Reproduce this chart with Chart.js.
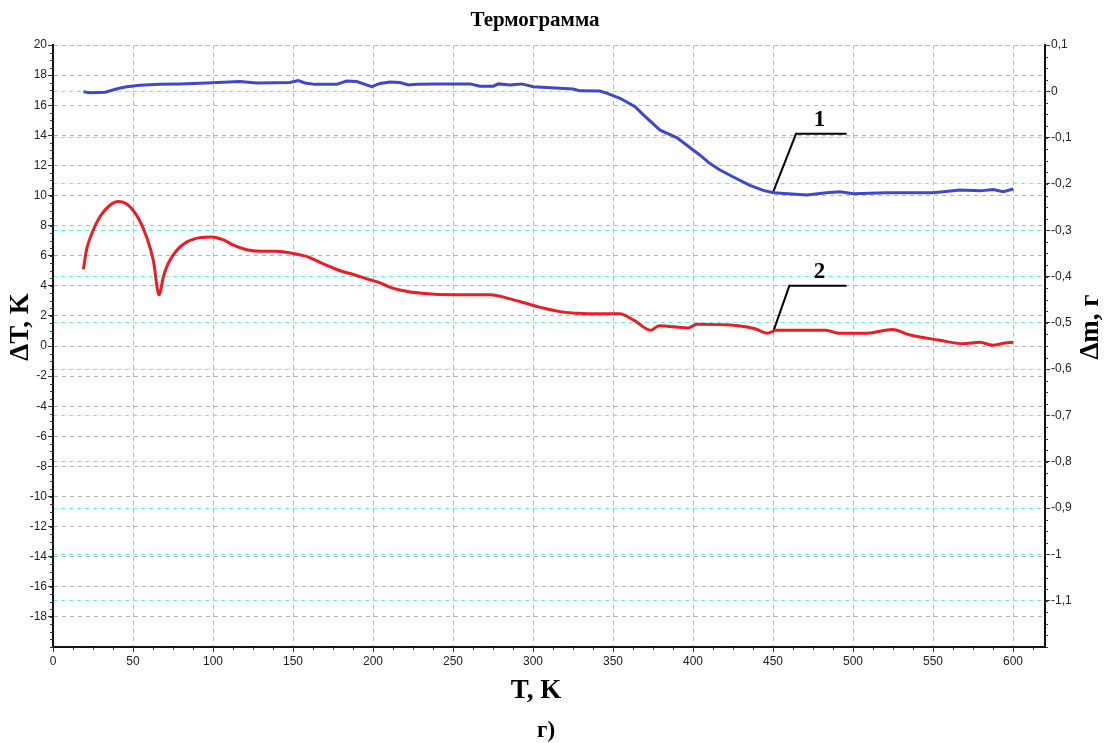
<!DOCTYPE html>
<html>
<head>
<meta charset="utf-8">
<title>Термограмма</title>
<script src="https://cdn.jsdelivr.net/npm/chart.js@4.4.1/dist/chart.umd.min.js"></script>
<style>
    html, body { margin: 0; padding: 0; background: #fff; }
    #wrap { position: relative; width: 1111px; height: 743px; }
</style>
</head>
<body>
<div id="wrap"><canvas id="thermoChart"></canvas></div>
<script>
// ========================================
// Data
// ========================================
// curve 1 - mass change, right axis
const massT = [19, 23, 32.5, 40.8, 46, 54.4, 66.9, 79.4, 96, 116.9, 127.3, 148.1, 153.3, 157.5, 163.8,
    177.3, 183.5, 189.8, 199.2, 204.4, 210.6, 216.9, 222.1, 227.3, 239.8, 260.6, 266.9, 275.2, 278.3,
    285.6, 292.9, 300.2, 308.5, 325.2, 329.4, 341.9, 346, 354.4, 363.8, 369, 379.4, 389.8, 396, 404.4,
    410.6, 416.9, 425.2, 435.6, 443.9, 450.2, 471, 483.5, 491.9, 500.2, 521, 550.2, 566.9, 579.4,
    587.7, 593.9, 600.2];
const massDm = [-0.001, -0.003, -0.002, 0.006, 0.010, 0.013, 0.015, 0.016, 0.018, 0.021, 0.018, 0.019,
    0.023, 0.018, 0.015, 0.015, 0.022, 0.021, 0.010, 0.017, 0.020, 0.019, 0.0135, 0.015, 0.016, 0.016,
    0.011, 0.011, 0.016, 0.0135, 0.016, 0.010, 0.008, 0.005, 0.001, 0.0005, -0.004, -0.015, -0.033,
    -0.051, -0.084, -0.100, -0.116, -0.138, -0.156, -0.170, -0.185, -0.203, -0.214, -0.219, -0.224,
    -0.219, -0.217, -0.221, -0.219, -0.219, -0.213, -0.215, -0.212, -0.217, -0.211];

// curve 2 - temperature difference, left axis
const diffT = [19, 21, 24, 29.4, 35.6, 40.8, 47.1, 53.3, 58.5, 62.7, 66.3, 69, 72.1, 77.3, 83.5, 91.9,
    99.2, 106.5, 112.7, 121, 129.4, 139.8, 150.2, 158.5, 169, 179.4, 187.7, 198.1, 204.4, 209.6, 217.4,
    230.4, 251.3, 273.4, 285.1, 303.3, 319, 334.6, 354.1, 363.2, 373.6, 378.9, 397.1, 402.3, 428.3,
    438.8, 446.6, 451.8, 483, 490.8, 509, 524.7, 535.1, 553.3, 568.9, 579.4, 587.2, 595, 600];
const diffDt = [5.1, 6.4, 7.4, 8.6, 9.35, 9.6, 9.35, 8.5, 7.25, 5.7, 3.4, 4.6, 5.5, 6.35, 6.9, 7.2,
    7.25, 7.05, 6.7, 6.4, 6.3, 6.3, 6.15, 5.95, 5.45, 5.0, 4.75, 4.4, 4.2, 3.95, 3.7,
    3.5, 3.4, 3.4, 3.15, 2.6, 2.25, 2.15, 2.15, 1.7, 1.05, 1.35, 1.2, 1.45, 1.35,
    1.15, 0.85, 1.05, 1.05, 0.85, 0.85, 1.1, 0.75, 0.4, 0.15, 0.25, 0.05, 0.2, 0.25];

// leader lines for the curve numbers (T, ΔT)
const leader1T = [450, 464.4, 496];
const leader1Dt = [10.2, 14.1, 14.1];
const leader2T = [450, 460.2, 496];
const leader2Dt = [0.9, 4.0, 4.0];
const curveLabels = ['1', '2'];
const curveLabelT = [479, 479];
const curveLabelDt = [15.0, 4.9];

// axes
const tTicks = [0, 50, 100, 150, 200, 250, 300, 350, 400, 450, 500, 550, 600];
const dtTicks = [20, 18, 16, 14, 12, 10, 8, 6, 4, 2, 0, -2, -4, -6, -8, -10, -12, -14, -16, -18];
const dmTicks = [0.1, 0, -0.1, -0.2, -0.3, -0.4, -0.5, -0.6, -0.7, -0.8, -0.9, -1, -1.1];

const titleText = 'Термограмма';
const xTitle = 'T, K';
const yTitle = 'ΔT, K';
const y2Title = 'Δm, г';
const captionText = 'г)';

// ========================================
// Helpers
// ========================================
const toPoints = (xs, ys) => xs.map((x, i) => ({ x: x, y: ys[i] }));
const tickFont = { family: '"Liberation Sans", Arial, sans-serif', size: 12 };
const serifBold = '"Liberation Serif", "Times New Roman", serif';

// minor ticks, titles and curve numbers
const decorPlugin = {
    id: 'decor',
    afterDraw(chart) {
        const ctx = chart.ctx;
        const area = chart.chartArea;
        const sx = chart.scales.x, sy = chart.scales.y, sy2 = chart.scales.y2;

        ctx.save();
        ctx.strokeStyle = '#333';
        ctx.lineWidth = 1;
        ctx.beginPath();
        for (let v = sy.min; v <= sy.max + 1e-9; v += 0.5) {
            const p = Math.round(sy.getPixelForValue(v)) + 0.5;
            ctx.moveTo(area.left - 3, p); ctx.lineTo(area.left, p);
        }
        for (let v = sy2.min; v <= sy2.max + 1e-9; v += 0.025) {
            const p = Math.round(sy2.getPixelForValue(v)) + 0.5;
            ctx.moveTo(area.right, p); ctx.lineTo(area.right + 3, p);
        }
        for (let v = sx.min; v <= sx.max + 1e-9; v += 12.5) {
            const p = Math.round(sx.getPixelForValue(v)) + 0.5;
            ctx.moveTo(p, area.bottom); ctx.lineTo(p, area.bottom + 3);
        }
        ctx.stroke();

        ctx.fillStyle = '#000';
        ctx.textAlign = 'center';
        ctx.textBaseline = 'middle';

        ctx.font = 'bold 21px ' + serifBold;
        ctx.fillText(titleText, 535, 21);

        ctx.font = 'bold 27px ' + serifBold;
        ctx.fillText(xTitle, 536, 691);

        ctx.font = 'bold 23px ' + serifBold;
        ctx.fillText(captionText, 546, 731);

        ctx.font = 'bold 27px ' + serifBold;
        ctx.save();
        ctx.translate(21, 327);
        ctx.rotate(-Math.PI / 2);
        ctx.fillText(yTitle, 0, 0);
        ctx.restore();
        ctx.save();
        ctx.translate(1091, 327);
        ctx.rotate(-Math.PI / 2);
        ctx.fillText(y2Title, 0, 0);
        ctx.restore();

        ctx.font = 'bold 23px ' + serifBold;
        curveLabels.forEach((txt, i) => {
            ctx.fillText(txt, sx.getPixelForValue(curveLabelT[i]), sy.getPixelForValue(curveLabelDt[i]));
        });
        ctx.restore();
    }
};

// ========================================
// Chart
// ========================================
const leaderStyle = {
    borderColor: '#000',
    borderWidth: 2,
    pointRadius: 0,
    tension: 0,
    yAxisID: 'y'
};

new Chart(document.getElementById('thermoChart'), {
    type: 'line',
    data: {
        datasets: [
            {
                label: '1',
                data: toPoints(massT, massDm),
                borderColor: '#3f48cc',
                borderWidth: 3,
                pointRadius: 0,
                tension: 0,
                yAxisID: 'y2'
            },
            {
                label: '2',
                data: toPoints(diffT, diffDt),
                borderColor: '#ed1c24',
                borderWidth: 3,
                pointRadius: 0,
                cubicInterpolationMode: 'monotone',
                yAxisID: 'y'
            },
            Object.assign({ label: 'leader 1', data: toPoints(leader1T, leader1Dt) }, leaderStyle),
            Object.assign({ label: 'leader 2', data: toPoints(leader2T, leader2Dt) }, leaderStyle)
        ]
    },
    options: {
        responsive: true,
        maintainAspectRatio: false,
        animation: false,
        devicePixelRatio: 1,
        layout: { padding: { top: 45, left: 0, right: 0, bottom: 0 } },
        plugins: {
            legend: { display: false },
            tooltip: { enabled: false },
            title: { display: false }
        },
        scales: {
            x: {
                type: 'linear',
                min: 0,
                max: 620,
                afterBuildTicks: s => { s.ticks = tTicks.map(v => ({ value: v })); },
                afterFit: s => { s.height = 96; },
                ticks: { font: tickFont, color: '#222', padding: 2, maxRotation: 0, autoSkip: false },
                grid: { color: '#b4b4b4', tickColor: '#333', tickLength: 5, lineWidth: 1 },
                border: { color: '#111', width: 2, dash: [4, 4] }
            },
            y: {
                type: 'linear',
                position: 'left',
                min: -20,
                max: 20,
                afterBuildTicks: s => { s.ticks = dtTicks.map(v => ({ value: v })); },
                afterFit: s => { s.width = 53; },
                ticks: { font: tickFont, color: '#222', padding: 1, autoSkip: false },
                grid: { color: '#b4b4b4', tickColor: '#333', tickLength: 5, lineWidth: 1 },
                border: { color: '#111', width: 2, dash: [4, 4] }
            },
            y2: {
                type: 'linear',
                position: 'right',
                min: -1.2,
                max: 0.1,
                afterBuildTicks: s => { s.ticks = dmTicks.map(v => ({ value: v })); },
                afterFit: s => { s.width = 66; },
                ticks: {
                    font: tickFont,
                    color: '#222',
                    padding: 1,
                    autoSkip: false,
                    callback: v => String(Math.round(v * 10) / 10).replace('.', ',')
                },
                grid: { color: '#5eeef6', tickColor: '#333', tickLength: 5, lineWidth: 1 },
                border: { color: '#111', width: 2, dash: [4, 4] }
            }
        }
    },
    plugins: [decorPlugin]
});
</script>
</body>
</html>
